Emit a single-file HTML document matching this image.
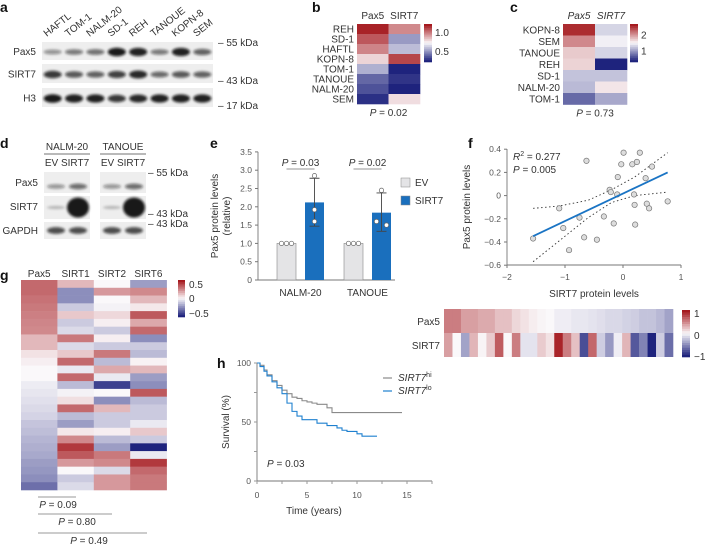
<!DOCTYPE html>
<html><head><meta charset="utf-8"><style>
body{margin:0;background:#fff}
svg{display:block;font-family:"Liberation Sans",sans-serif;fill:#333}
text{font-size:10px}
.lt{font-weight:bold;font-size:14px;fill:#111}
.tk{font-size:8.5px;fill:#555}
</style></head><body>
<svg id="fig" width="708" height="547" viewBox="0 0 708 547" xmlns="http://www.w3.org/2000/svg">
<defs><filter id="blur" x="-30%" y="-60%" width="160%" height="220%"><feGaussianBlur stdDeviation="1.3"/></filter></defs>
<g>
<text class="lt" x="0" y="12">a</text><text class="lt" x="312" y="12">b</text><text class="lt" x="510" y="12">c</text>
<text class="lt" x="0" y="148">d</text><text class="lt" x="210" y="148">e</text><text class="lt" x="468" y="148">f</text>
<text class="lt" x="0" y="280">g</text><text class="lt" x="217" y="368">h</text>
</g>
<g id="pa"></g>
<g id="pb"></g>
<g id="pc"></g>
<g id="pd"></g>
<g id="pe"></g>
<g id="pf"></g>
<g id="pf2"></g>
<g id="pg"></g>
<g id="ph"></g>
</svg>
<script>
// ---- data ----
const aLanes=["HAFTL","TOM-1","NALM-20","SD-1","REH","TANOUE","KOPN-8","SEM"];
const aPax5=[0.25,0.4,0.45,1,0.95,0.4,0.95,0.55];
const aSirt7=[0.8,0.6,0.55,0.75,0.9,0.5,0.6,0.55];
const aH3=[1,0.95,0.95,0.8,0.9,0.95,0.95,0.95];
const bRows=["REH","SD-1","HAFTL","KOPN-8","TOM-1","TANOUE","NALM-20","SEM"];
const bPax5=[1.2,1.08,0.98,0.8,0.55,0.38,0.33,0.25];
const bSirt7=[0.97,0.5,0.58,1.12,0.22,0.26,0.22,0.78];
const cRows=["KOPN-8","SEM","TANOUE","REH","SD-1","NALM-20","TOM-1"];
const cPax5=[2.6,2.1,1.75,1.7,1.2,1.15,0.7];
const cSirt7=[1.3,1.45,1.3,0.2,1.2,1.6,1.05];
const eGroups=["NALM-20","TANOUE"];
const eEV=[1,1];
const eSIRT7=[2.12,1.84];
const eErrLo=[1.47,1.33];
const eErrHi=[2.78,2.38];
const eEVpts=[[1,1,1],[1,1,1]];
const eSIRTpts=[[2.85,1.92,1.6],[2.45,1.6,1.5]];
const ePvals=["0.03","0.02"];
const eTicks=[0,0.5,1,1.5,2,2.5,3,3.5];
const fX=[-1.55,-1.1,-1.03,-0.93,-0.75,-0.67,-0.63,-0.45,-0.33,-0.23,-0.21,-0.16,-0.1,-0.09,-0.03,0.01,0.16,0.19,0.2,0.21,0.24,0.29,0.39,0.41,0.45,0.5,0.77];
const fY=[-0.37,-0.11,-0.28,-0.47,-0.19,-0.36,0.3,-0.38,-0.18,0.05,0.03,-0.24,0.01,0.16,0.27,0.37,0.27,0.01,-0.08,-0.25,0.29,0.37,0.15,-0.07,-0.11,0.25,-0.05];
const fFit=[[-1.55,-0.35],[0.77,0.2]];
const fCIx=[-1.55,-1.1,-0.6,-0.2,0.2,0.77];
const fCIup=[-0.11,-0.09,-0.04,0.05,0.16,0.37];
const fCIlo=[-0.57,-0.39,-0.19,-0.06,0.0,0.03];
const fXTicks=[-2,-1,0,1];
const fYTicks=[0.4,0.2,0,-0.2,-0.4,-0.6];
const f2Pax5=[0.55,0.55,0.4,0.4,0.35,0.35,0.25,0.25,0.15,0.1,0.05,0.02,0,-0.05,-0.05,-0.08,-0.08,-0.1,-0.12,-0.15,-0.15,-0.18,-0.2,-0.25,-0.25,-0.3,-0.4];
const f2Sirt7=[0.4,0,-0.4,0.3,0.02,0.2,0.7,0,0.55,-0.1,-0.1,0.2,0.1,0.95,0.55,0.25,-0.8,0.65,-0.2,-0.45,-0.05,0.3,-0.75,-0.55,-1,-0.2,-0.65];
const gCols=["Pax5","SIRT1","SIRT2","SIRT6"];
const gPax5=[0.45,0.45,0.42,0.4,0.38,0.36,0.35,0.2,0.2,0.07,0.03,0,0,-0.04,-0.06,-0.08,-0.1,-0.12,-0.17,-0.19,-0.22,-0.24,-0.26,-0.3,-0.32,-0.35,-0.45];
const gSirt1=[0.2,-0.35,-0.35,-0.15,0.15,-0.15,-0.1,0.4,-0.1,0.15,0.45,-0.05,0.45,-0.2,-0.02,0.08,0.45,-0.2,-0.3,0.05,0.35,0.6,0.5,0.3,0,-0.15,-0.1];
const gSirt2=[0,0.3,0,-0.02,0.1,0.03,-0.15,0.03,-0.15,0.4,-0.2,0.25,-0.05,-0.6,0,-0.35,0.2,-0.15,-0.15,0.03,-0.2,-0.3,0.4,0.35,-0.1,0.3,0.3];
const gSirt6=[-0.3,0.35,0.2,0.05,0.5,0.25,0.45,-0.35,-0.15,-0.2,0.02,0.2,-0.3,-0.35,0.5,-0.2,-0.15,-0.15,-0.05,0.15,-0.15,-0.7,-0.05,0.6,0.45,0.4,0.4];
const gP=["0.09","0.80","0.49"];
const hHiT=[0,0.3,0.7,1,1.5,2,2.5,3,3.5,4,4.5,5,5.5,6,6.5,7,7.5,14.5];
const hHiS=[100,98,94,90,85,81,77,74,71,70,68,67,66,65,65,62,58,58];
const hLoT=[0,0.3,0.7,1,1.5,2,2.5,3,3.5,4,4.5,5,6,7,8,8.5,9,10,10.5,12];
const hLoS=[100,97,93,89,84,79,74,66,59,55,52,52,49,47,45,43,42,40,38,38];
const hXTicks=[0,5,10,15];
const hYTicks=[0,50,100];

// ---- helpers ----
const NS="http://www.w3.org/2000/svg";
function mk(p,tag,at,txt){const e=document.createElementNS(NS,tag);for(const k in at)e.setAttribute(k,at[k]);if(txt!==undefined)e.textContent=txt;p.appendChild(e);return e;}
function lerp(a,b,t){return a.map((v,i)=>Math.round(v+(b[i]-v)*t));}
function div(t){t=Math.max(-1,Math.min(1,t));const w=[250,248,250],r=[165,25,30],b=[30,35,125];const c=t>=0?lerp(w,r,t):lerp(w,b,-t);return `rgb(${c[0]},${c[1]},${c[2]})`;}
const $=id=>document.getElementById(id);

// ---- panel a ----
(function(){const g=$("pa");
const x0=42,w=171/8;
aLanes.forEach((n,i)=>{const cx=x0+w*i+w/2;const t=mk(g,"text",{x:cx-6,y:37,transform:`rotate(-38 ${cx-6} 37)`,"font-size":"10"},n);

});
const rows=[["Pax5",42,60,aPax5],["SIRT7",64,83,aSirt7],["H3",88,107,aH3]];
rows.forEach(r=>{const bx=mk(g,"rect",{x:x0,y:r[1],width:171,height:r[2]-r[1],fill:"#eeeeee"});


const lb=mk(g,"text",{x:36,y:(r[1]+r[2])/2+4,"text-anchor":"end","font-size":"10.5"},r[0]);


r[3].forEach((v,i)=>{const cx=x0+w*i+w/2;const e=mk(g,"ellipse",{cx:cx,cy:(r[1]+r[2])/2+1,rx:9,ry:1.8+2.5*v,fill:"#111","fill-opacity":0.25+0.7*v,filter:"url(#blur)"});

});});
[["– 55 kDa",46],["– 43 kDa",84],["– 17 kDa",109]].forEach(m=>{const t=mk(g,"text",{x:218,y:m[1],"font-size":"10"},m[0]);

});})();

// ---- heatmap b / c ----
function heat(gid,rows,c1,c2,x0,y0,cw,rh,mid,span,hdr,ital,cbx,cbTicks,ptxt){const g=$(gid);
hdr.forEach((h,i)=>{const t=mk(g,"text",{x:x0+cw*i+cw/2,y:y0-5,"text-anchor":"middle","font-size":"10","font-style":ital?"italic":"normal"},h);

});
rows.forEach((r,j)=>{const t=mk(g,"text",{x:x0-3,y:y0+rh*j+rh/2+3.5,"text-anchor":"end","font-size":"9.5"},r);


[c1,c2].forEach((arr,i)=>{const c=mk(g,"rect",{x:x0+cw*i,y:y0+rh*j,width:cw+0.3,height:rh+0.3,fill:div((arr[j]-mid)/span)});

});});
const N=20,cbh=38;for(let k=0;k<N;k++){const c=mk(g,"rect",{x:cbx,y:y0+cbh*k/N,width:8,height:cbh/N+0.3,fill:div(1-2*k/(N-1))});

}
cbTicks.forEach(tk=>{const yy=y0+cbh*(1-((tk-mid)/span+1)/2);const t=mk(g,"text",{x:cbx+11,y:yy+3.5,"font-size":"9.5"},tk.toFixed(tk%1?1:(tk<2&&gid=="pb"?1:0)));

});
const p=mk(g,"text",{x:x0+cw,y:y0+rh*rows.length+12,"text-anchor":"middle","font-size":"10"});


mk(p,"tspan",{"font-style":"italic"},"P");mk(p,"tspan",{},` = ${ptxt}`);}
heat("pb",bRows,bPax5,bSirt7,357,24,31.5,10,0.72,0.5,["Pax5","SIRT7"],false,424,[1.0,0.5],"0.02");
heat("pc",cRows,cPax5,cSirt7,563,24,32,11.5,1.5,1.2,["Pax5","SIRT7"],true,630,[2,1],"0.73");

// ---- panel d ----
(function(){const g=$("pd");
[["NALM-20",44],["TANOUE",100]].forEach(h=>{const t=mk(g,"text",{x:h[1]+23,y:150,"text-anchor":"middle","font-size":"10"},h[0]);


const l=mk(g,"line",{x1:h[1],x2:h[1]+46,y1:154,y2:154,stroke:"#444","stroke-width":0.8});


const s=mk(g,"text",{x:h[1]+23,y:166,"text-anchor":"middle","font-size":"10"},"EV SIRT7");


const rows=[[172,193,[0.3,0.55]],[196,219,[0.05,1.6]],[222,239,[0.75,0.75]]];
rows.forEach(r=>{const b=mk(g,"rect",{x:h[1],y:r[0],width:46,height:r[1]-r[0],fill:"#eeeeee"});


r[2].forEach((v,i)=>{const big=v>1;const e=mk(g,"ellipse",{cx:h[1]+12+i*22,cy:(r[0]+r[1])/2+(r[0]==172?4:0),rx:big?11:9,ry:big?10:1.5+2.5*v,fill:"#111","fill-opacity":big?0.95:0.2+0.7*v,filter:"url(#blur)"});

});});});
[["Pax5",186],["SIRT7",210],["GAPDH",234]].forEach(r=>{const t=mk(g,"text",{x:38,y:r[1],"text-anchor":"end","font-size":"10.5"},r[0]);

});
[["– 55 kDa",176],["– 43 kDa",217],["– 43 kDa",227]].forEach(m=>{const t=mk(g,"text",{x:148,y:m[1],"font-size":"10"},m[0]);

});})();

// ---- panel e ----
(function(){const g=$("pe");const ey=v=>280-v*36.6;const gx=[286.5,353.5];
const ax=mk(g,"path",{d:`M258 ${ey(3.5)}V280H395`,stroke:"#777",fill:"none","stroke-width":0.9});


eTicks.forEach(v=>{const l=mk(g,"line",{x1:255,x2:258,y1:ey(v),y2:ey(v),stroke:"#777"});


const t=mk(g,"text",{x:252,y:ey(v)+3,"text-anchor":"end",class:"tk"},v===0?"0":v.toFixed(1));

});
eGroups.forEach((n,i)=>{
const b1=mk(g,"rect",{x:gx[i]-9.5,y:ey(eEV[i]),width:19,height:ey(0)-ey(eEV[i]),fill:"#e4e4e6",stroke:"#888","stroke-width":0.6});


const cx=gx[i]+28;
const b2=mk(g,"rect",{x:cx-9.5,y:ey(eSIRT7[i]),width:19,height:ey(0)-ey(eSIRT7[i]),fill:"#1a6fbd"});


const er=mk(g,"path",{d:`M${cx} ${ey(eErrLo[i])}V${ey(eErrHi[i])}M${cx-5} ${ey(eErrLo[i])}h10M${cx-5} ${ey(eErrHi[i])}h10`,stroke:"#444",fill:"none","stroke-width":0.9});


eEVpts[i].forEach((v,k)=>{const c=mk(g,"circle",{cx:gx[i]-5+5*k,cy:ey(v),r:2.2,fill:"#fff",stroke:"#666","stroke-width":0.7});

});
eSIRTpts[i].forEach((v,k)=>{const c=mk(g,"circle",{cx:cx+(i==1?[0,-5,5][k]:0),cy:ey(v),r:2.2,fill:"#fff",stroke:"#666","stroke-width":0.7});

});
const gl=mk(g,"text",{x:gx[i]+14,y:296,"text-anchor":"middle","font-size":"10"},n);


const pl=mk(g,"text",{x:gx[i]+14,y:166,"text-anchor":"middle","font-size":"10"});


mk(pl,"tspan",{"font-style":"italic"},"P");mk(pl,"tspan",{},` = ${ePvals[i]}`);
const ul=mk(g,"line",{x1:gx[i]-0,x2:gx[i]+28,y1:169,y2:169,stroke:"#aaa","stroke-width":1.2});

});
const yt=mk(g,"text",{x:0,y:0,transform:"translate(218,216) rotate(-90)","text-anchor":"middle","font-size":"10"},"Pax5 protein levels");


const yt2=mk(g,"text",{x:0,y:0,transform:"translate(230,216) rotate(-90)","text-anchor":"middle","font-size":"10"},"(relative)");


[["EV","#e4e4e6",186],["SIRT7","#1a6fbd",204]].forEach(l=>{const r=mk(g,"rect",{x:401,y:l[2]-8,width:9,height:9,fill:l[1],stroke:"#888","stroke-width":0.5});


const t=mk(g,"text",{x:415,y:l[2],"font-size":"10"},l[0]);

});})();

// ---- panel f ----
(function(){const g=$("pf");const fx=v=>623+v*58,fy=v=>195.6-v*116;
const ax=mk(g,"path",{d:`M507 149V265H681`,stroke:"#777",fill:"none","stroke-width":0.9});


fYTicks.forEach(v=>{const l=mk(g,"line",{x1:504,x2:507,y1:fy(v),y2:fy(v),stroke:"#777"});


const t=mk(g,"text",{x:501,y:fy(v)+3,"text-anchor":"end",class:"tk"},v===0?"0":(v<0?"−":"")+Math.abs(v).toFixed(1));

});
fXTicks.forEach(v=>{const l=mk(g,"line",{x1:fx(v),x2:fx(v),y1:265,y2:268,stroke:"#777"});


const t=mk(g,"text",{x:fx(v),y:280,"text-anchor":"middle",class:"tk"},(v<0?"−":"")+Math.abs(v));

});
[fCIup,fCIlo].forEach(arr=>{const p=mk(g,"path",{d:"M"+fCIx.map((x,i)=>fx(x)+" "+fy(arr[i])).join("L"),stroke:"#333",fill:"none","stroke-width":0.9,"stroke-dasharray":"1.5 2.5"});

});
fX.forEach((x,i)=>{const c=mk(g,"circle",{cx:fx(x),cy:fy(fY[i]),r:2.7,fill:"#ddd",stroke:"#777","stroke-width":0.7});

});
const fl=mk(g,"line",{x1:fx(fFit[0][0]),y1:fy(fFit[0][1]),x2:fx(fFit[1][0]),y2:fy(fFit[1][1]),stroke:"#1a74c4","stroke-width":1.8});


const r2=mk(g,"text",{x:513,y:160,"font-size":"10"});


mk(r2,"tspan",{"font-style":"italic"},"R");mk(r2,"tspan",{dy:-4,"font-size":"7"},"2");mk(r2,"tspan",{dy:4}," = 0.277");
const pv=mk(g,"text",{x:513,y:173,"font-size":"10"});


mk(pv,"tspan",{"font-style":"italic"},"P");mk(pv,"tspan",{}," = 0.005");
const xt=mk(g,"text",{x:594,y:297,"text-anchor":"middle","font-size":"10"},"SIRT7 protein levels");


const yt=mk(g,"text",{x:0,y:0,transform:"translate(470,207) rotate(-90)","text-anchor":"middle","font-size":"10"},"Pax5 protein levels");


// heatmap under f
const h=$("pf2");const x0=444,cw=229/f2Pax5.length;
[["Pax5",f2Pax5,309],["SIRT7",f2Sirt7,333]].forEach(r=>{const t=mk(h,"text",{x:440,y:r[2]+16,"text-anchor":"end","font-size":"10"},r[0]);


r[1].forEach((v,i)=>{const c=mk(h,"rect",{x:x0+cw*i,y:r[2],width:cw+0.3,height:24,fill:div(v)});

});});
for(let k=0;k<20;k++){const c=mk(h,"rect",{x:682,y:310+47*k/20,width:8,height:47/20+0.3,fill:div(1-2*k/19)});

}
[["1",317],["0",339],["−1",360]].forEach(l=>{const t=mk(h,"text",{x:694,y:l[1],"font-size":"10"},l[0]);

});})();

// ---- panel g ----
(function(){const g=$("pg");const x0=21,cw=36.4,y0=280,rh=210/gPax5.length;
gCols.forEach((n,i)=>{const t=mk(g,"text",{x:x0+cw*i+cw/2,y:277,"text-anchor":"middle","font-size":"10"},n);

});
[gPax5,gSirt1,gSirt2,gSirt6].forEach((arr,i)=>arr.forEach((v,j)=>{const c=mk(g,"rect",{x:x0+cw*i,y:y0+rh*j,width:cw+0.3,height:rh+0.3,fill:div(v/0.7)});

}));
for(let k=0;k<20;k++){const c=mk(g,"rect",{x:178,y:280+37*k/20,width:7,height:37/20+0.3,fill:div(1-2*k/19)});

}
[["0.5",284],["0",298],["−0.5",313]].forEach(l=>{const t=mk(g,"text",{x:189,y:l[1]+4,"font-size":"10"},l[0]);

});
const ends=[76,112,147],ly=[497,514,533],tx=[58,77,89];
gP.forEach((p,i)=>{const l=mk(g,"line",{x1:38,x2:ends[i],y1:ly[i],y2:ly[i],stroke:"#777","stroke-width":0.8});


const t=mk(g,"text",{x:tx[i],y:ly[i]+11,"text-anchor":"middle","font-size":"10"});


mk(t,"tspan",{"font-style":"italic"},"P");mk(t,"tspan",{},` = ${p}`);});})();

// ---- panel h ----
(function(){const g=$("ph");const hx=t=>257+t*10,hy=s=>481-s*1.18;
const ax=mk(g,"path",{d:`M257 ${hy(100)}V481H432`,stroke:"#777",fill:"none","stroke-width":0.9});


[0,25,50,75,100].forEach(v=>{const l=mk(g,"line",{x1:254,x2:257,y1:hy(v),y2:hy(v),stroke:"#999"});

});
hYTicks.forEach(v=>{const t=mk(g,"text",{x:251,y:hy(v)+3,"text-anchor":"end",class:"tk"},String(v));

});
for(let v=0;v<=17.5;v+=2.5){const l=mk(g,"line",{x1:hx(v),x2:hx(v),y1:481,y2:484,stroke:"#999"});

}
hXTicks.forEach(v=>{const t=mk(g,"text",{x:hx(v),y:498,"text-anchor":"middle",class:"tk"},String(v));

});
function step(T,S){let d=`M${hx(T[0])} ${hy(S[0])}`;for(let i=1;i<T.length;i++)d+=`H${hx(T[i])}V${hy(S[i])}`;return d;}
const hi=mk(g,"path",{d:step(hHiT,hHiS),stroke:"#8a8a8a",fill:"none","stroke-width":1.1});


const lo=mk(g,"path",{d:step(hLoT,hLoS),stroke:"#1f80cf",fill:"none","stroke-width":1.1});


const yt=mk(g,"text",{x:0,y:0,transform:"translate(229,422) rotate(-90)","text-anchor":"middle","font-size":"10"},"Survival (%)");


const xt=mk(g,"text",{x:314,y:514,"text-anchor":"middle","font-size":"10"},"Time (years)");


const pv=mk(g,"text",{x:267,y:467,"font-size":"10"});


mk(pv,"tspan",{"font-style":"italic"},"P");mk(pv,"tspan",{}," = 0.03");
[["hi","#8a8a8a",381],["lo","#1f80cf",394]].forEach(l=>{const ln=mk(g,"line",{x1:383,x2:392,y1:l[2]-3,y2:l[2]-3,stroke:l[1],"stroke-width":1.2});


const t=mk(g,"text",{x:398,y:l[2],"font-size":"10","font-style":"italic"});


mk(t,"tspan",{},"SIRT7");mk(t,"tspan",{dy:-4,"font-size":"7","font-style":"normal"},l[0]);});})();
</script>
</body></html>
